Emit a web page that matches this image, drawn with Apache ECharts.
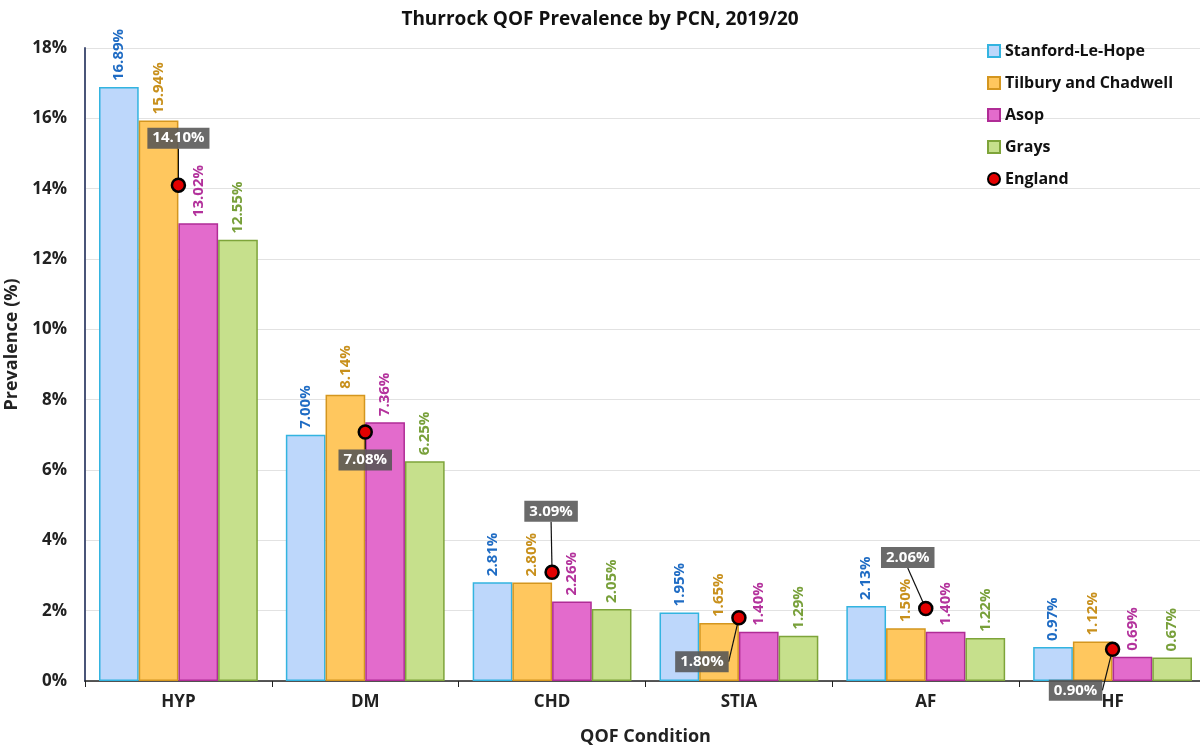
<!DOCTYPE html>
<html>
<head>
<meta charset="utf-8">
<script src="https://cdn.jsdelivr.net/npm/echarts@6/dist/echarts.min.js"></script>
<style>
  html, body { margin: 0; padding: 0; background: #fff; }
  #chart { width: 1200px; height: 747px; }
</style>
</head>
<body>
<div id="chart"></div>
<script>
const conditions = ['HYP', 'DM', 'CHD', 'STIA', 'AF', 'HF']
const stanford = [16.89, 7.00, 2.81, 1.95, 2.13, 0.97]
const tilbury = [15.94, 8.14, 2.80, 1.65, 1.50, 1.12]
const asop = [13.02, 7.36, 2.26, 1.40, 1.40, 0.69]
const grays = [12.55, 6.25, 2.05, 1.29, 1.22, 0.67]
const england = [14.10, 7.08, 3.09, 1.80, 2.06, 0.90]

const font = '"Open Sans", "Noto Sans", sans-serif'

function barSeries(name, data, fill, border, labelColor) {
  return {
    name: name,
    type: 'bar',
    data: data,
    barGap: '0%',
    barCategoryGap: '15%',
    itemStyle: { color: fill, borderColor: border, borderWidth: 1.5 },
    label: {
      show: true,
      position: 'top',
      rotate: 90,
      align: 'left',
      verticalAlign: 'middle',
      distance: 6,
      color: labelColor,
      fontFamily: font,
      fontWeight: 'bold',
      fontSize: 15,
      formatter: p => p.value.toFixed(2) + '%'
    }
  }
}

// where each England callout box sits relative to its point
const calloutShift = [[0, -47], [0, 28], [-1, -61], [-37, 44], [-18, -51], [-37, 41]]

const chart = echarts.init(document.getElementById('chart'))
const option = {
  backgroundColor: '#fff',
  animation: false,
  textStyle: { fontFamily: font },
  title: {
    text: 'Thurrock QOF Prevalence by PCN, 2019/20',
    left: 'center',
    top: 5,
    textStyle: { fontFamily: font, fontSize: 19, fontWeight: 'bold', color: '#111' }
  },
  legend: {
    orient: 'vertical',
    left: 982,
    top: 38,
    itemGap: 16,
    itemWidth: 12,
    itemHeight: 12,
    textStyle: { fontFamily: font, fontSize: 16, fontWeight: 'bold', color: '#111' },
    data: [
      { name: 'Stanford-Le-Hope', icon: 'rect' },
      { name: 'Tilbury and Chadwell', icon: 'rect' },
      { name: 'Asop', icon: 'rect' },
      { name: 'Grays', icon: 'rect' },
      { name: 'England', icon: 'circle' }
    ]
  },
  grid: { left: 85, right: -6, top: 48, bottom: 66, outerBoundsMode: 'none' },
  xAxis: {
    type: 'category',
    data: conditions,
    name: 'QOF Condition',
    nameLocation: 'middle',
    nameGap: 47,
    nameTextStyle: { fontFamily: font, fontSize: 18, fontWeight: 'bold', color: '#222' },
    axisLine: { lineStyle: { color: '#222', width: 1.5 } },
    axisTick: { show: true, length: 6, lineStyle: { color: '#222' } },
    axisLabel: { fontFamily: font, fontSize: 17, fontWeight: 'bold', color: '#222', margin: 13 }
  },
  yAxis: {
    type: 'value',
    min: 0,
    max: 18,
    interval: 2,
    name: 'Prevalence (%)',
    nameLocation: 'middle',
    nameGap: 56,
    nameTextStyle: { fontFamily: font, fontSize: 18, fontWeight: 'bold', color: '#222', padding: [0, 0, 0, 40] },
    axisLine: { show: true, lineStyle: { color: '#4a5578', width: 2 } },
    axisTick: { show: false },
    axisLabel: {
      fontFamily: font, fontSize: 17, fontWeight: 'bold', color: '#222', margin: 18,
      formatter: v => v + '%'
    },
    splitLine: { lineStyle: { color: '#e2e2e2' } }
  },
  series: [
    barSeries('Stanford-Le-Hope', stanford, '#bdd7fb', '#33b4e0', '#1f6cc4'),
    barSeries('Tilbury and Chadwell', tilbury, '#ffc75e', '#d4961f', '#c8901c'),
    barSeries('Asop', asop, '#e36bcc', '#b02c96', '#b3329c'),
    barSeries('Grays', grays, '#c6e08c', '#7ea43a', '#78a03a'),
    {
      name: 'England',
      type: 'scatter',
      data: england,
      symbol: 'circle',
      symbolSize: 13,
      z: 10,
      itemStyle: { color: '#e30000', borderColor: '#000', borderWidth: 2.5, opacity: 1 },
      label: {
        show: true,
        position: 'inside',
        formatter: p => p.value.toFixed(2) + '%',
        backgroundColor: 'rgba(85,85,85,0.88)',
        color: '#fff',
        fontFamily: font,
        fontWeight: 'bold',
        fontSize: 15,
        padding: [3, 5]
      },
      labelLine: { show: true, lineStyle: { color: '#111', width: 1.2 } },
      labelLayout: p => ({ dx: calloutShift[p.dataIndex][0], dy: calloutShift[p.dataIndex][1] })
    }
  ]
}
chart.setOption(option)
</script>
</body>
</html>
